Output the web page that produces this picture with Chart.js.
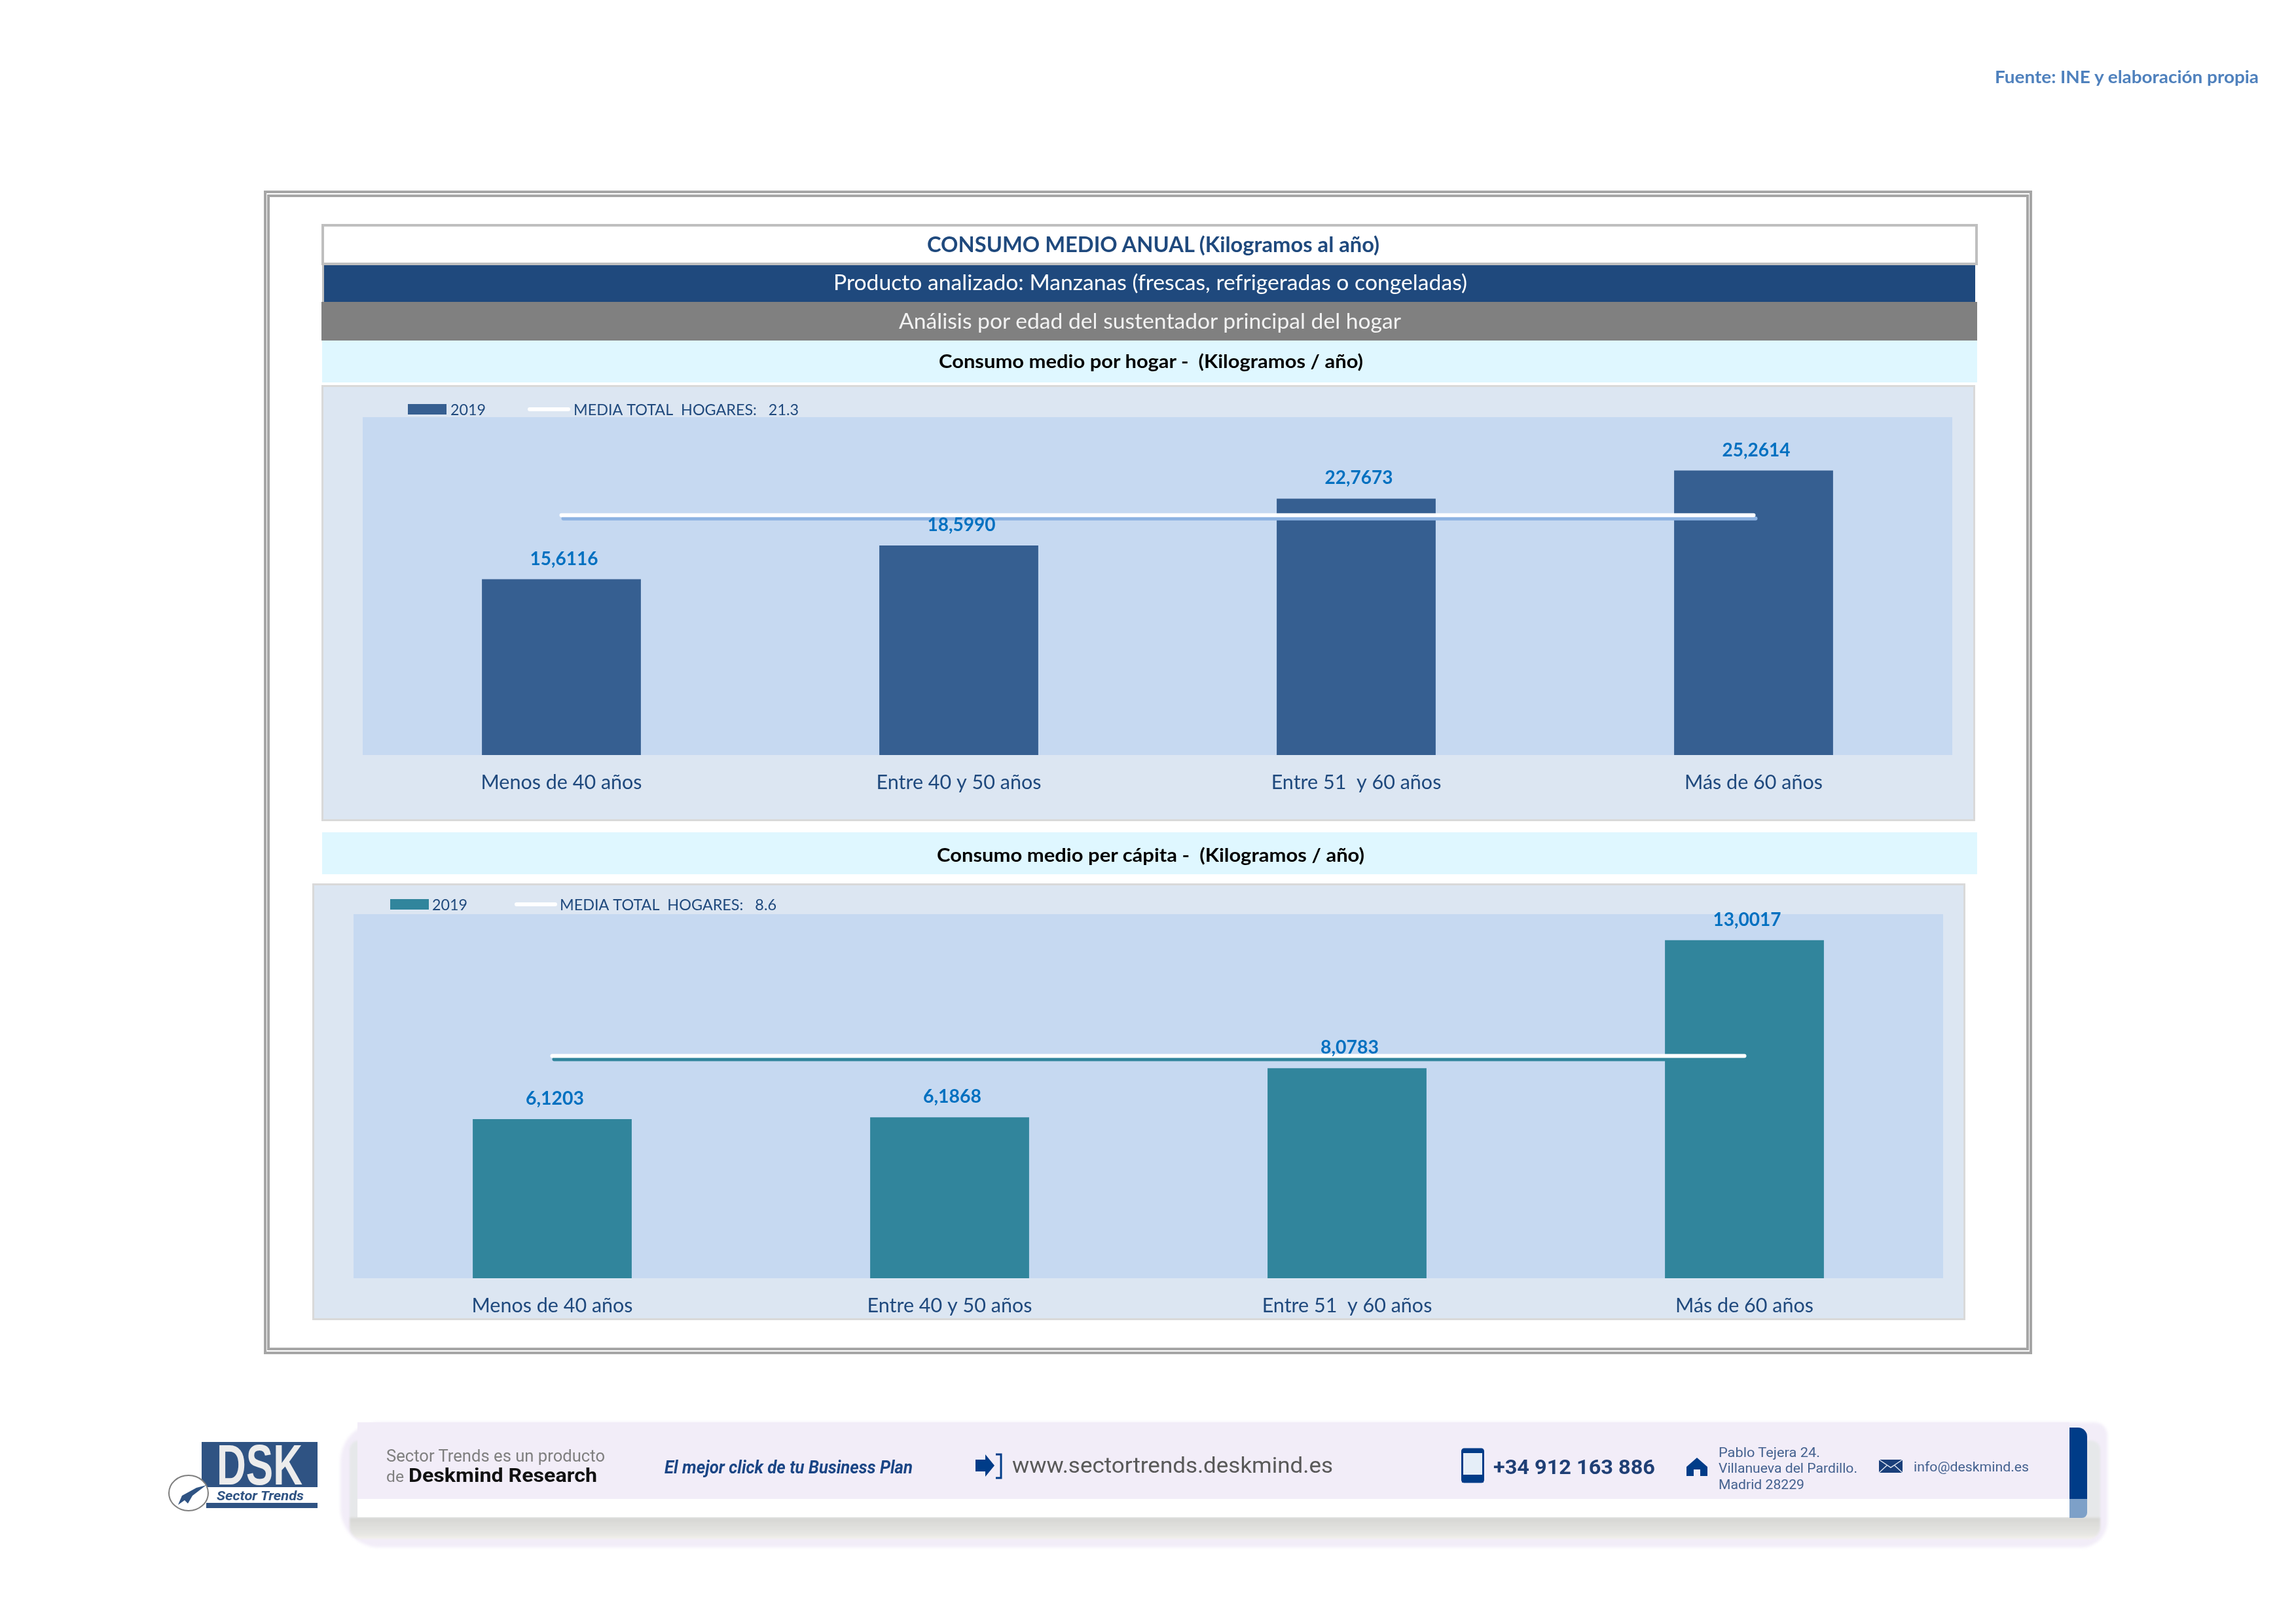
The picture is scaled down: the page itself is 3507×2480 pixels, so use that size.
<!DOCTYPE html>
<html lang="es">
<head>
<meta charset="utf-8">
<title>Consumo medio anual - Manzanas</title>
<script src="https://cdn.jsdelivr.net/npm/chart.js@4"></script>
<style>
html,body{margin:0;padding:0;background:#fff;width:3507px;height:2480px;overflow:hidden}
#page{position:relative;width:3507px;height:2480px;overflow:hidden}
.r{position:absolute;box-sizing:border-box}
.t{position:absolute;white-space:pre;line-height:1;transform-origin:0 50%}
canvas{position:absolute;display:block}
</style>
</head>
<body>
<div id="page"></div>
<script>
// ---------- data ----------
const categories = ['Menos de 40 años', 'Entre 40 y 50 años', 'Entre 51  y 60 años', 'Más de 60 años'];
const hogarValues = [15.6116, 18.5990, 22.7673, 25.2614];
const capitaValues = [6.1203, 6.1868, 8.0783, 13.0017];
const hogarMedia = [21.3, 21.3, 21.3, 21.3];
const capitaMedia = [8.55, 8.55, 8.55, 8.55];
const serieLabel = '2019';
const hogarMediaLabel = 'MEDIA TOTAL  HOGARES:   21.3';
const capitaMediaLabel = 'MEDIA TOTAL  HOGARES:   8.6';
const titleText = 'CONSUMO MEDIO ANUAL (Kilogramos al año)';
const productText = 'Producto analizado: Manzanas (frescas, refrigeradas o congeladas)';
const analysisText = 'Análisis por edad del sustentador principal del hogar';
const hogarTitle = 'Consumo medio por hogar -  (Kilogramos / año)';
const capitaTitle = 'Consumo medio per cápita -  (Kilogramos / año)';
const sourceText = 'Fuente: INE y elaboración propia';

const page = document.getElementById('page');
function R(x, y, w, h, css) {
  const d = document.createElement('div');
  d.className = 'r';
  d.style.cssText = `left:${x}px;top:${y}px;width:${w}px;height:${h}px;${css || ''}`;
  page.appendChild(d);
  return d;
}
function T(text, x, w, yc, size, color, css, font) {
  const d = document.createElement('div');
  d.className = 't';
  d.textContent = text;
  d.style.cssText = `left:${x}px;top:${yc - size / 2}px;font-size:${size}px;color:${color};font-family:${font || 'Lato'},sans-serif;${css || ''}`;
  page.appendChild(d);
  d.dataset.w = w;
  return d;
}
function fitAll() {
  document.querySelectorAll('.t').forEach(d => {
    const nat = d.getBoundingClientRect().width;
    d.style.transform = `scaleX(${d.dataset.w / nat})`;
  });
}

// ---------- frame and header strips ----------
R(403, 291, 2701, 1777, 'border:4px solid #a6a6a6');
R(408, 297, 2691, 1765, 'border:4px solid #a6a6a6');
R(491, 342, 2530, 63, 'border:4px solid #bfbfbf');
R(492, 405, 2525, 56, 'background:#1f497d;border-left:3px solid #bfbfbf');
R(491, 461, 2529, 59, 'background:#808080');
R(492, 520, 2528, 64, 'background:#dff7ff');
R(492, 1271, 2528, 64, 'background:#dff7ff');
T(titleText, 1416, 691, 372, 33, '#1f497d', 'font-weight:700');
T(productText, 1273, 968, 430, 33, '#ffffff');
T(analysisText, 1373, 767, 489, 33, '#f2f2f2');
T(hogarTitle, 1434, 648, 550, 29, '#000000', 'font-weight:700');
T(capitaTitle, 1431, 653, 1304, 29, '#000000', 'font-weight:700');
T(sourceText, 3047, 403, 116, 27, '#4f81bd', 'font-weight:700');

// ---------- charts ----------
const panelPlugin = {
  id: 'panel',
  beforeDraw(chart) {
    const { ctx, chartArea: a, width, height } = chart;
    ctx.save();
    ctx.fillStyle = '#dce6f2';
    ctx.fillRect(0, 0, width, height);
    ctx.strokeStyle = '#d9d9d9';
    ctx.lineWidth = 3;
    ctx.strokeRect(1.5, 1.5, width - 3, height - 3);
    ctx.fillStyle = '#c6d9f1';
    ctx.fillRect(a.left, a.top, a.right - a.left, a.bottom - a.top);
    ctx.restore();
  }
};
const lineShadowPlugin = {
  id: 'lineShadow',
  beforeDatasetDraw(chart, args, opts) {
    if (chart.data.datasets[args.index].type !== 'line') return;
    const ctx = chart.ctx;
    ctx.save();
    ctx.shadowColor = opts.color;
    ctx.shadowBlur = 0;
    ctx.shadowOffsetX = 3;
    ctx.shadowOffsetY = 5;
  },
  afterDatasetDraw(chart, args) {
    if (chart.data.datasets[args.index].type !== 'line') return;
    chart.ctx.restore();
  }
};
function fitText(ctx, text, x, y, w) {
  const nat = ctx.measureText(text).width;
  ctx.save();
  ctx.translate(x, y);
  ctx.scale(w / nat, 1);
  ctx.fillText(text, 0, 0);
  ctx.restore();
}
const valueLabelPlugin = {
  id: 'valueLabels',
  afterDatasetsDraw(chart) {
    const ctx = chart.ctx;
    const idx = chart.data.datasets.findIndex(d => d.type === 'bar');
    const meta = chart.getDatasetMeta(idx);
    ctx.save();
    ctx.fillStyle = '#0070c0';
    ctx.font = '700 28px Lato, sans-serif';
    ctx.textBaseline = 'middle';
    ctx.textAlign = 'left';
    meta.data.forEach((bar, i) => {
      const s = chart.data.datasets[idx].data[i].toFixed(4).replace('.', ',');
      const w = s.length === 6 ? 89 : 104;
      fitText(ctx, s, bar.x + 4 - w / 2, bar.y - 31, w);
    });
    ctx.restore();
  }
};
const legendRowPlugin = {
  id: 'legendRow',
  afterDraw(chart, args, o) {
    const ctx = chart.ctx;
    const bar = chart.data.datasets.find(d => d.type === 'bar');
    const line = chart.data.datasets.find(d => d.type === 'line');
    ctx.save();
    ctx.fillStyle = bar.backgroundColor;
    ctx.fillRect(o.swatchX, o.y - 8, 59, 16);
    ctx.strokeStyle = line.borderColor;
    ctx.lineWidth = 6;
    ctx.lineCap = 'round';
    ctx.beginPath();
    ctx.moveTo(o.lineX, o.y);
    ctx.lineTo(o.lineX + 59, o.y);
    ctx.stroke();
    ctx.fillStyle = '#1f497d';
    ctx.font = '24px Lato, sans-serif';
    ctx.textBaseline = 'middle';
    ctx.textAlign = 'left';
    fitText(ctx, bar.label, o.text1X, o.y + 1, o.text1W);
    fitText(ctx, line.label, o.text2X, o.y + 1, o.text2W);
    ctx.restore();
  }
};
Chart.defaults.font.family = 'Lato, sans-serif';

function makeChart(box, plot, values, media, mediaLabel, barColor, shadowColor, yMax, legendCfg) {
  const c = document.createElement('canvas');
  c.style.left = box.x + 'px';
  c.style.top = box.y + 'px';
  c.style.width = box.w + 'px';
  c.style.height = box.h + 'px';
  c.width = box.w;
  c.height = box.h;
  page.appendChild(c);
  return new Chart(c, {
    type: 'bar',
    data: {
      labels: categories,
      datasets: [
        { type: 'line', label: mediaLabel, data: media, borderColor: '#ffffff', borderWidth: 6,
          borderCapStyle: 'round', pointRadius: 0, fill: false, tension: 0, order: 0 },
        { type: 'bar', label: serieLabel, data: values, backgroundColor: barColor,
          barPercentage: 0.4, categoryPercentage: 1, order: 1 }
      ]
    },
    options: {
      responsive: false,
      animation: false,
      devicePixelRatio: 1,
      layout: { padding: { left: plot.l, right: plot.r, top: plot.t, bottom: 0 } },
      plugins: {
        legend: { display: false },
        tooltip: { enabled: false },
        lineShadow: { color: shadowColor },
        legendRow: legendCfg
      },
      scales: {
        y: { display: false, min: 0, max: yMax },
        x: {
          grid: { display: false, drawTicks: false },
          border: { display: false },
          ticks: { color: '#1f497d', font: { size: 30.5 }, padding: plot.tickPad, autoSkip: false, maxRotation: 0 },
          afterFit(s) { s.height = plot.b; }
        }
      }
    },
    plugins: [panelPlugin, lineShadowPlugin, valueLabelPlugin, legendRowPlugin]
  });
}

// ---------- footer ----------
R(520, 2172, 2699, 191, 'background:#f2edf8;border-radius:60px 20px 40px 60px;filter:blur(2px)');
R(534, 2200, 2674, 150, 'background:linear-gradient(#e6e8ea 0,#e6e8ea 78%,#d6d6d3 79%,#e6e6e3 95%,#f3f1ea 100%);border-radius:14px 14px 18px 18px;filter:blur(1.5px)');
R(546, 2172, 2615, 117, 'background:#f2edf8');
R(546, 2289, 2615, 28, 'background:#ffffff');
R(3161, 2180, 27, 109, 'background:#003c88;border-radius:0 14px 0 0');
R(3161, 2289, 27, 29, 'background:#7da0c8;border-radius:0 0 8px 0');
T('Sector Trends es un producto', 590, 334, 2223, 25, '#7f7f7f', '', 'Roboto');
T('de', 590, 27, 2255, 23, '#7f7f7f', '', 'Roboto');
T('Deskmind Research', 624, 288, 2253, 30, '#111111', 'font-weight:700', 'Roboto');
T('El mejor click de tu Business Plan', 1015, 379, 2241, 27, '#1a4585', 'font-weight:700;font-style:italic', 'Roboto');
T('www.sectortrends.deskmind.es', 1546, 490, 2237, 33, '#595959', '', 'Roboto');
T('+34 912 163 886', 2281, 247, 2240, 31, '#1f3f75', 'font-weight:700', 'Roboto');
T('Pablo Tejera 24.', 2625, 155, 2218, 20, '#44618f', '', 'Roboto');
T('Villanueva del Pardillo.', 2625, 212, 2242, 20, '#44618f', '', 'Roboto');
T('Madrid 28229', 2625, 131, 2267, 20, '#44618f', '', 'Roboto');
T('info@deskmind.es', 2923, 176, 2240, 20, '#44618f', '', 'Roboto');
// logo
R(308, 2202, 177, 69, 'background:#2f5383');
R(315, 2295, 170, 8, 'background:#2f5383');
T('DSK', 331, 131, 2237, 88, '#ececec', 'font-weight:700', 'Liberation Sans');
T('Sector Trends', 331, 133, 2284, 20, '#2f5383', 'font-weight:700;font-style:italic', 'Roboto');
const svg = document.createElementNS('http://www.w3.org/2000/svg', 'svg');
svg.setAttribute('width', '3507');
svg.setAttribute('height', '2480');
svg.style.cssText = 'position:absolute;left:0;top:0;pointer-events:none';
svg.innerHTML = `
<ellipse cx="288" cy="2280" rx="30" ry="27" fill="#fff" stroke="#7f7f7f" stroke-width="2"/>
<path d="M315 2268 L300 2272 L278 2284 L272 2298 L282 2291 L287 2296 L294 2284 Z" fill="#2f5383"/>
<path d="M1490 2229 h15 v-8 l14 17 l-14 17 v-8 h-15 Z" fill="#003c88"/>
<path d="M1521 2221 h8 v36 h-8" fill="none" stroke="#003c88" stroke-width="3"/>
<rect x="2233.5" y="2213" width="32" height="50" rx="3" fill="#e5eef8" stroke="#003c88" stroke-width="3"/>
<rect x="2233" y="2213" width="33" height="6" fill="#003c88"/>
<rect x="2233" y="2252" width="33" height="12" fill="#003c88"/>
<path d="M2592 2226 L2608 2240 V2254 H2597 V2244 H2587 V2254 H2576 V2240 Z" fill="#003c88"/>
<rect x="2870" y="2229" width="36" height="20" fill="#1a3f7a"/>
<path d="M2870 2229 L2888 2241 L2906 2229 M2870 2249 L2882 2238 M2906 2249 L2894 2238" fill="none" stroke="#dfe6f2" stroke-width="1.5"/>`;
page.appendChild(svg);

// ---------- build ----------
function build() {
  makeChart({ x: 491, y: 588, w: 2526, h: 666 }, { l: 63, r: 35, t: 49, b: 101, tickPad: 24 },
    hogarValues, hogarMedia, hogarMediaLabel, '#365f91', '#8db3e2', 30,
    { swatchX: 132, lineX: 318, y: 37, text1X: 197, text1W: 54, text2X: 385, text2W: 344 });
  makeChart({ x: 477, y: 1349, w: 2525, h: 667 }, { l: 63, r: 34, t: 47, b: 64, tickPad: 24 },
    capitaValues, capitaMedia, capitaMediaLabel, '#31859c', '#31859c', 14,
    { swatchX: 119, lineX: 312, y: 32, text1X: 183, text1W: 54, text2X: 378, text2W: 331 });
  fitAll();
}
if (document.fonts && document.fonts.load) {
  Promise.all([
    document.fonts.load('400 28px Lato'), document.fonts.load('700 28px Lato'),
    document.fonts.load('400 28px Roboto'), document.fonts.load('700 28px Roboto')
  ]).then(build, build);
} else { build(); }
</script>
</body>
</html>
